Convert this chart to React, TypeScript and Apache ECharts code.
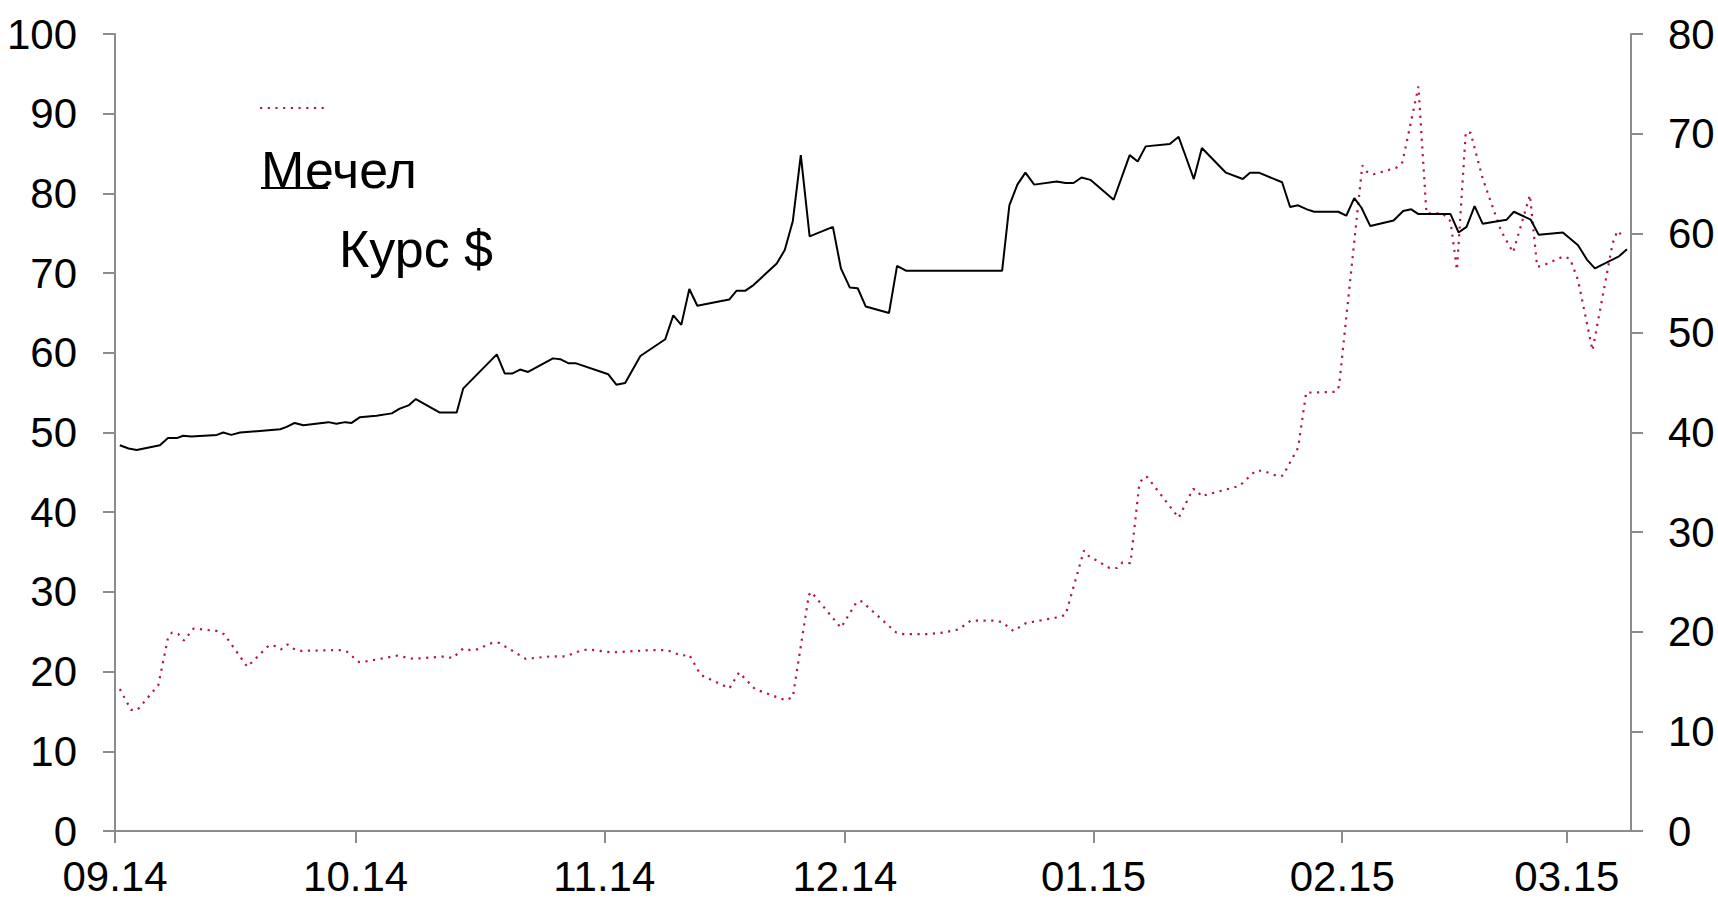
import React, { useEffect, useRef } from "react";
import * as echarts from "echarts";

// x values are days counted from 1 Sep 2014
const monthTickDays = [0, 30, 61, 91, 122, 153, 181];
const monthLabels = ["09.14", "10.14", "11.14", "12.14", "01.15", "02.15", "03.15"];

// Мечел (left axis)
const mechelDays = [0.6,2.0,2.8,5.4,6.6,7.1,7.9,8.6,9.8,12.7,13.6,16.5,19.2,20.0,20.7,21.5,22.2,23.0,28.0,28.9,30.4,31.4,35.2,37.2,41.1,42.1,43.4,44.3,45.2,47.0,47.9,51.2,54.2,56.1,58.0,59.0,61.9,66.8,68.8,70.6,71.6,73.0,76.6,77.8,79.8,83.6,84.5,86.5,86.8,90.5,92.5,93.1,97.4,98.3,101.3,103.3,105.2,106.7,109.7,110.6,112.0,113.6,117.5,118.5,120.8,121.4,124.0,124.9,125.6,126.6,127.7,128.2,128.7,132.6,134.4,134.9,135.4,140.2,142.2,143.1,145.0,145.6,147.5,148.5,152.2,152.6,155.5,156.1,156.9,159.7,160.5,162.5,163.5,165.5,166.5,167.3,168.4,169.0,170.5,172.8,174.3,176.4,177.3,177.9,180.6,181.4,182.4,184.2,186.7,187.3,188.0];
const mechelPrice = [17.8,15.2,15.2,18.3,24.2,24.9,24.7,23.9,25.4,25.1,24.7,20.6,23.3,23.2,22.8,23.4,22.9,22.6,22.7,22.5,21.2,21.3,22.0,21.6,21.9,21.7,22.9,22.7,22.8,23.6,23.6,21.6,21.9,21.9,22.6,22.8,22.4,22.7,22.7,22.0,22.1,19.6,17.9,19.9,17.8,16.4,16.8,29.6,30.0,25.5,28.8,28.8,24.9,24.7,24.7,24.9,25.3,26.4,26.4,26.2,25.1,26.1,26.8,27.1,35.2,34.5,33.0,33.0,33.7,33.6,43.5,44.4,44.4,39.3,42.9,42.8,42.0,43.3,45.2,45.2,44.5,44.6,48.1,55.0,55.1,55.8,83.5,82.7,82.4,83.2,83.9,93.4,77.5,77.5,76.5,70.4,87.7,87.6,81.9,75.3,72.6,79.8,70.8,70.9,72.1,71.8,69.1,60.3,73.7,75.3,74.6];

// Курс $ (right axis)
const usdDays = [0.6,1.7,2.7,5.6,6.6,7.7,8.5,9.5,12.7,13.5,14.5,15.6,20.6,21.4,22.4,23.5,26.6,27.6,28.7,29.5,30.5,32.6,34.5,35.5,36.6,37.5,40.5,42.6,43.4,47.6,48.6,49.5,50.5,51.5,54.6,55.5,56.5,57.4,61.5,62.5,63.6,65.5,68.6,69.6,70.6,71.6,72.6,75.6,76.6,77.5,78.6,79.6,82.5,83.5,84.5,85.5,86.6,89.5,90.5,91.6,92.6,93.6,96.5,97.5,98.6,110.6,111.5,112.5,113.5,114.6,117.4,118.5,119.5,120.5,121.6,124.5,126.5,127.5,128.5,131.5,132.6,133.5,134.5,135.5,138.5,140.6,141.5,142.6,145.5,146.5,147.5,148.6,149.5,152.5,153.5,154.5,155.4,156.5,159.4,160.6,161.6,162.5,166.5,167.5,168.5,169.5,170.5,173.5,174.4,176.5,177.5,180.5,182.4,183.5,184.5,187.5,188.5];
const usdRate = [38.72,38.4,38.24,38.72,39.44,39.44,39.68,39.6,39.76,40.0,39.76,40.0,40.32,40.56,40.96,40.72,41.04,40.88,41.04,40.96,41.52,41.68,41.92,42.4,42.72,43.36,42.0,42.0,44.4,47.84,45.92,45.92,46.32,46.08,47.44,47.36,46.96,46.96,45.84,44.8,44.96,47.68,49.36,51.76,50.8,54.4,52.72,53.2,53.36,54.24,54.24,54.8,56.96,58.32,61.2,67.84,59.68,60.64,56.48,54.56,54.48,52.64,52.0,56.72,56.24,56.24,62.8,64.88,66.08,64.88,65.2,65.04,65.04,65.6,65.36,63.36,67.84,67.2,68.72,68.96,69.68,67.68,65.44,68.56,66.08,65.44,66.08,66.08,65.12,62.64,62.8,62.4,62.16,62.16,61.76,63.52,62.56,60.72,61.28,62.24,62.4,61.92,61.92,60.08,60.64,62.72,60.96,61.36,62.16,61.36,59.84,60.08,58.8,57.36,56.48,57.68,58.4];

const FONT = '"Liberation Sans", Arial, sans-serif';
const AXIS_COLOR = "#8c8c8c";
const RED = "#b5173c";

function zip(xs: number[], ys: number[]) {
  const n = Math.min(xs.length, ys.length);
  const out: number[][] = [];
  for (let i = 0; i < n; i++) out.push([xs[i], ys[i]]);
  return out;
}

export default function App() {
  const ref = useRef<HTMLDivElement>(null);
  useEffect(() => {
    if (!ref.current) return;
    const chart = echarts.init(ref.current, undefined, { renderer: "svg" });
    const axisLine = { show: true, onZero: false, lineStyle: { color: AXIS_COLOR, width: 2 } };
    const axisTick = { show: true, length: 12, lineStyle: { color: AXIS_COLOR, width: 2 } };
    chart.setOption({
      animation: false,
      backgroundColor: "#ffffff",
      grid: { left: 115, right: 87, top: 34, bottom: 69 },
      xAxis: {
        type: "value",
        min: 0,
        max: 189,
        axisLine,
        axisTick: { ...axisTick, customValues: monthTickDays },
        axisLabel: {
          customValues: monthTickDays,
          formatter: (v: number) => {
            const i = monthTickDays.indexOf(v);
            return i >= 0 ? monthLabels[i] : "";
          },
          fontSize: 42,
          fontFamily: FONT,
          color: "#000",
          margin: 24,
        },
        splitLine: { show: false },
      },
      yAxis: [
        {
          type: "value",
          position: "left",
          min: 0,
          max: 100,
          interval: 10,
          axisLine,
          axisTick,
          axisLabel: { fontSize: 42, fontFamily: FONT, color: "#000", margin: 38 },
          splitLine: { show: false },
        },
        {
          type: "value",
          position: "right",
          min: 0,
          max: 80,
          interval: 10,
          axisLine,
          axisTick,
          axisLabel: { fontSize: 42, fontFamily: FONT, color: "#000", margin: 37 },
          splitLine: { show: false },
        },
      ],
      series: [
        {
          name: "Мечел",
          type: "line",
          yAxisIndex: 0,
          data: zip(mechelDays, mechelPrice),
          symbol: "none",
          showSymbol: false,
          lineStyle: { color: RED, width: 2.2, type: [2.2, 5.5] },
        },
        {
          name: "Курс $",
          type: "line",
          yAxisIndex: 1,
          data: zip(usdDays, usdRate),
          symbol: "none",
          showSymbol: false,
          lineStyle: { color: "#000", width: 2 },
        },
      ],
      graphic: [
        {
          type: "line",
          shape: { x1: 260, y1: 108, x2: 327, y2: 108 },
          style: { stroke: RED, lineWidth: 2.2, lineDash: [2.2, 5.5] },
        },
        {
          type: "line",
          shape: { x1: 261, y1: 188, x2: 328, y2: 188 },
          style: { stroke: "#000", lineWidth: 2 },
        },
        {
          type: "text",
          x: 261,
          y: 170,
          style: { text: "Мечел", fontSize: 52, fontFamily: FONT, fill: "#000", verticalAlign: "middle", align: "left" },
        },
        {
          type: "text",
          x: 339,
          y: 249,
          style: { text: "Курс $", fontSize: 52, fontFamily: FONT, fill: "#000", verticalAlign: "middle", align: "left" },
        },
      ],
    });
    return () => chart.dispose();
  }, []);
  return (
    <div
      ref={ref}
      style={{ position: "absolute", left: 0, top: 0, width: 1718, height: 900, background: "#fff" }}
    />
  );
}
